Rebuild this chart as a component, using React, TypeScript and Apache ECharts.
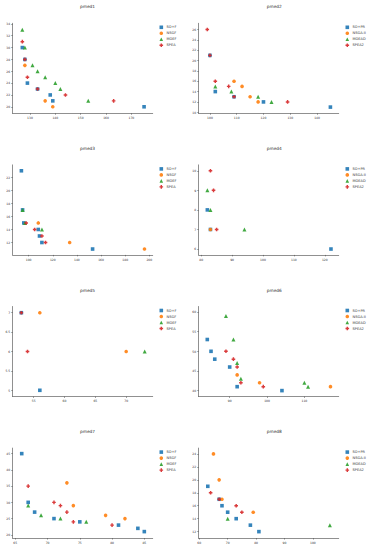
import React, { useEffect, useRef } from "react";
import * as echarts from "echarts";

// ---- data (x = objective 1, y = objective 2) ----
const namesOdd = ["SO+F", "NSGF", "MOEF", "SPEA"];
const namesEven = ["SO+PR", "NSGA-II", "MOEAD", "SPEA2"];
const titles = ["pmed1", "pmed2", "pmed3", "pmed4", "pmed5", "pmed6", "pmed7", "pmed8"];

const pmed1_so = [[127, 30], [128, 28], [129, 24], [133, 23], [138, 22], [139, 21], [175, 20]];
const pmed1_ns = [[128, 27], [136, 21], [139, 20]];
const pmed1_mo = [[127, 33], [128, 30], [131, 27], [133, 26], [136, 25], [140, 24], [142, 23], [153, 21]];
const pmed1_sp = [[127, 31], [128, 28], [129, 25], [133, 23], [144, 22], [163, 21]];

const pmed2_so = [[100, 21], [102, 14], [109, 13], [120, 12], [145, 11]];
const pmed2_ns = [[109, 16], [112, 15], [115, 13], [118, 12]];
const pmed2_mo = [[102, 15], [108, 14], [118, 13], [123, 12]];
const pmed2_sp = [[99, 26], [100, 21], [102, 16], [107, 15], [109, 13], [129, 12]];

const pmed3_so = [[94, 23], [95, 17], [96, 15], [108, 14], [109, 13], [111, 12], [153, 11]];
const pmed3_ns = [[108, 15], [134, 12], [196, 11]];
const pmed3_mo = [[95, 17], [97, 15], [111, 14]];
const pmed3_sp = [[98, 15], [105, 14], [111, 13], [114, 12]];

const pmed4_so = [[82, 8], [83, 7], [122, 6]];
const pmed4_ns = [[83, 7]];
const pmed4_mo = [[82, 9], [83, 8], [94, 7]];
const pmed4_sp = [[83, 10], [84, 9], [85, 7]];

const pmed5_so = [[53, 7], [56, 5]];
const pmed5_ns = [[56, 7], [70, 6]];
const pmed5_mo = [[73, 6]];
const pmed5_sp = [[53, 7], [54, 6]];

const pmed6_so = [[84, 53], [85, 50], [86, 48], [90, 46], [92, 41], [104, 40]];
const pmed6_ns = [[92, 44], [98, 42], [117, 41]];
const pmed6_mo = [[89, 59], [91, 53], [92, 47], [93, 43], [110, 42], [111, 41]];
const pmed6_sp = [[89, 50], [91, 48], [92, 46], [93, 42], [99, 41]];

const pmed7_so = [[66, 45], [67, 30], [68, 27], [71, 25], [75, 24], [81, 23], [84, 22], [85, 21]];
const pmed7_ns = [[73, 36], [74, 29], [79, 26], [82, 25]];
const pmed7_mo = [[67, 29], [69, 26], [72, 25], [76, 24]];
const pmed7_sp = [[67, 35], [71, 30], [72, 29], [73, 27], [74, 24], [80, 23]];

const pmed8_so = [[63, 19], [67, 17], [68, 16], [70, 15], [73, 14], [78, 13], [81, 12]];
const pmed8_ns = [[65, 24], [67, 20], [68, 17], [79, 15]];
const pmed8_mo = [[70, 14], [106, 13]];
const pmed8_sp = [[64, 18], [67, 17], [73, 16], [75, 15]];

const panelData = [
  [pmed1_so, pmed1_ns, pmed1_mo, pmed1_sp],
  [pmed2_so, pmed2_ns, pmed2_mo, pmed2_sp],
  [pmed3_so, pmed3_ns, pmed3_mo, pmed3_sp],
  [pmed4_so, pmed4_ns, pmed4_mo, pmed4_sp],
  [pmed5_so, pmed5_ns, pmed5_mo, pmed5_sp],
  [pmed6_so, pmed6_ns, pmed6_mo, pmed6_sp],
  [pmed7_so, pmed7_ns, pmed7_mo, pmed7_sp],
  [pmed8_so, pmed8_ns, pmed8_mo, pmed8_sp],
];

// tick labels
const xTicks = [
  [130, 140, 150, 160, 170],
  [100, 110, 120, 130, 140],
  [100, 120, 140, 160, 180, 200],
  [80, 90, 100, 110, 120],
  [55, 60, 65, 70],
  [90, 100, 110],
  [65, 70, 75, 80, 85],
  [60, 70, 80, 90, 100],
];
const yTicks = [
  [20, 22, 24, 26, 28, 30, 32, 34],
  [10, 12, 14, 16, 18, 20, 22, 24, 26],
  [12, 14, 16, 18, 20, 22],
  [6, 7, 8, 9, 10],
  [5, 5.5, 6, 6.5, 7],
  [40, 45, 50, 55, 60],
  [20, 25, 30, 35, 40, 45],
  [12, 14, 16, 18, 20, 22, 24],
];
// axis extents
const xRange = [
  [123.2, 178.4], [95.8, 148.1], [86.8, 202.8], [79.2, 124.5],
  [51.6, 74.3], [81.7, 119.2], [64.6, 86.3], [59.8, 109.1],
];
const yRange = [
  [18.9, 34.1], [9.8, 27.2], [10.1, 23.9], [5.7, 10.3],
  [4.84, 7.16], [38.5, 61.4], [19.0, 46.7], [11.0, 24.9],
];

const COLORS = ["#1f77b4", "#ff7f0e", "#2ca02c", "#d62728"];
const PLUS = "path://M3,0H7V3H10V7H7V10H3V7H0V3H3Z";
const SYMBOLS = ["rect", "circle", "triangle", PLUS];
const FONT = "DejaVu Sans";

export default function App() {
  const ref = useRef<HTMLDivElement>(null);
  useEffect(() => {
    if (!ref.current) return;
    const chart = echarts.init(ref.current, undefined, { renderer: "svg" });
    const colLeft = [12.7, 198.7];
    const titleX = [87.5, 274.3];
    const legendX = [159.5, 345.5];
    const gridW = 140;
    const gridH = 90;
    const top0 = 23.3;
    const pitch = 141.6;

    const grid: any[] = [];
    const xAxis: any[] = [];
    const yAxis: any[] = [];
    const title: any[] = [];
    const legend: any[] = [];
    const series: any[] = [];
    const axisColor = "#444";

    for (let i = 0; i < 8; i++) {
      const col = i % 2;
      const row = Math.floor(i / 2);
      const names = col === 0 ? namesOdd : namesEven;
      grid.push({ left: colLeft[col], top: top0 + pitch * row, width: gridW, height: gridH });
      xAxis.push({
        type: "value",
        gridIndex: i,
        min: xRange[i][0],
        max: xRange[i][1],
        splitLine: { show: false },
        axisLine: { show: true, lineStyle: { color: axisColor, width: 0.6 } },
        axisTick: { show: true, length: 1.5, customValues: xTicks[i], lineStyle: { color: axisColor, width: 0.5 } },
        axisLabel: { customValues: xTicks[i], fontSize: 3, color: "#333", margin: 3.2, fontFamily: FONT },
      });
      yAxis.push({
        type: "value",
        gridIndex: i,
        min: yRange[i][0],
        max: yRange[i][1],
        splitLine: { show: false },
        axisLine: { show: true, lineStyle: { color: axisColor, width: 0.6 } },
        axisTick: { show: true, length: 1.5, customValues: yTicks[i], lineStyle: { color: axisColor, width: 0.5 } },
        axisLabel: { customValues: yTicks[i], fontSize: 3, color: "#333", margin: 2.5, fontFamily: FONT },
      });
      title.push({
        text: titles[i],
        left: titleX[col],
        top: 7.5 + pitch * row - 2.6,
        textAlign: "center",
        padding: 0,
        textStyle: { fontSize: 4.3, fontWeight: "normal", color: "#333", fontFamily: FONT },
      });
      legend.push({
        orient: "vertical",
        left: legendX[col],
        top: 25.3 + pitch * row,
        padding: 0,
        itemWidth: 3.6,
        itemHeight: 3.6,
        itemGap: 2,
        selectedMode: false,
        data: names,
        textStyle: { fontSize: 3.5, color: "#333", fontFamily: FONT, lineHeight: 3.6, padding: [0, 0, 0, -1.5] },
      });
      for (let s = 0; s < 4; s++) {
        series.push({
          type: "scatter",
          name: names[s],
          xAxisIndex: i,
          yAxisIndex: i,
          data: panelData[i][s],
          symbol: SYMBOLS[s],
          symbolSize: s === 2 ? 4 : 3.6,
          itemStyle: { color: COLORS[s], opacity: 0.9 },
          z: 2 + s,
        });
      }
    }

    chart.setOption({
      animation: false,
      backgroundColor: "#ffffff",
      title,
      legend,
      grid,
      xAxis,
      yAxis,
      series,
    });
    return () => chart.dispose();
  }, []);
  return (
    <div
      ref={ref}
      style={{ position: "fixed", left: 0, top: 0, width: 373, height: 550, background: "#fff" }}
    />
  );
}
